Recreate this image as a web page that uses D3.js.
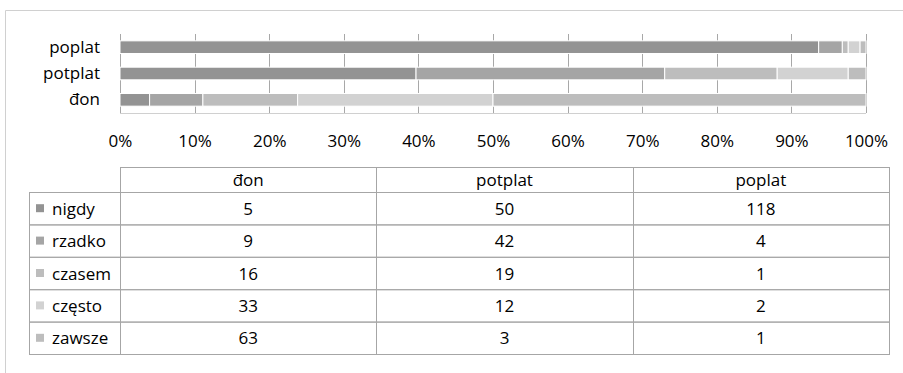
<!DOCTYPE html>
<html>
<head>
<meta charset="utf-8">
<script src="https://cdn.jsdelivr.net/npm/d3@7"></script>
<style>
  body { margin: 0; background: #fff; }
  text { font-family: "Open Sans", sans-serif; fill: #000; }
</style>
</head>
<body>
<div id="wykres"></div>
<script>
// dane
const kategorie = ["đon", "potplat", "poplat"];
const serie = ["nigdy", "rzadko", "czasem", "często", "zawsze"];
const nigdy  = [5, 50, 118];
const rzadko = [9, 42, 4];
const czasem = [16, 19, 1];
const czesto = [33, 12, 2];
const zawsze = [63, 3, 1];
const procenty = [0, 0.1, 0.2, 0.3, 0.4, 0.5, 0.6, 0.7, 0.8, 0.9, 1];

const kolory = ["#939393", "#a5a5a5", "#bdbdbd", "#d2d2d2", "#bdbdbd"];
const rozmiar = "17px";

const wartosci = [nigdy, rzadko, czasem, czesto, zawsze];
const wiersze = kategorie.map((k, i) => {
  const w = {kat: k};
  serie.forEach((s, j) => w[s] = wartosci[j][i]);
  return w;
});

const W = 903, H = 373;
const svg = d3.select("#wykres").append("svg")
  .attr("width", W).attr("height", H);

// ramka wykresu
svg.append("path")
  .attr("d", "M5.5," + H + "V10.5H" + W)
  .attr("fill", "none").attr("stroke", "#d0d0d0");

// skale
const x = d3.scaleLinear().domain([0, 1]).range([120, 866]);
const y = d3.scaleBand()
  .domain(kategorie.slice().reverse())
  .range([34, 113])
  .paddingInner(0.52)
  .paddingOuter(0.26);

// linie siatki
svg.append("g")
  .selectAll("line")
  .data(procenty)
  .join("line")
    .attr("x1", d => Math.round(x(d)) + 0.5)
    .attr("x2", d => Math.round(x(d)) + 0.5)
    .attr("y1", 34).attr("y2", 113)
    .attr("stroke", "#a8a8a8");

svg.append("line")
  .attr("x1", x(0)).attr("x2", x(1))
  .attr("y1", 113.5).attr("y2", 113.5)
  .attr("stroke", "#d0d0d0");

// oś X
const osX = svg.append("g")
  .attr("transform", "translate(0,132)")
  .call(d3.axisBottom(x).tickValues(procenty).tickFormat(d3.format(".0%")).tickSize(0));
osX.select(".domain").remove();
osX.selectAll("text").style("font-size", rozmiar).attr("dy", "0.71em");

// oś Y
const osY = svg.append("g")
  .attr("transform", "translate(100,0)")
  .call(d3.axisLeft(y).tickSize(0).tickPadding(0));
osY.select(".domain").remove();
osY.selectAll("text").style("font-size", rozmiar);

// słupki
const stos = d3.stack().keys(serie).offset(d3.stackOffsetExpand)(wiersze);
svg.append("g")
  .selectAll("g")
  .data(stos)
  .join("g")
    .attr("fill", (d, i) => kolory[i])
  .selectAll("rect")
  .data(d => d)
  .join("rect")
    .attr("x", d => x(d[0]))
    .attr("y", d => y(d.data.kat))
    .attr("width", d => x(d[1]) - x(d[0]))
    .attr("height", y.bandwidth())
    .attr("stroke", "#fff")
    .attr("stroke-width", 1);

// tabela danych
const kol = d3.scaleBand().domain(kategorie).range([120, 889]);
const rz = d3.scaleBand().domain(serie).range([192, 354]);
const gora = 167;
const linia = "#a6a6a6";
const tab = svg.append("g").attr("stroke-width", 1);

// nagłówek
tab.append("rect")
  .attr("x", kol.range()[0] + 0.5).attr("y", gora + 0.5)
  .attr("width", kol.range()[1] - kol.range()[0]).attr("height", rz.range()[0] - gora)
  .attr("fill", "none").attr("stroke", linia);
tab.selectAll(".nagl")
  .data(kategorie)
  .join("text")
    .attr("x", d => kol(d) + kol.bandwidth() / 2)
    .attr("y", (gora + rz.range()[0]) / 2)
    .attr("text-anchor", "middle")
    .attr("dominant-baseline", "central")
    .style("font-size", rozmiar)
    .text(d => d);

// wiersze
tab.selectAll(".wiersz")
  .data(serie)
  .join("rect")
    .attr("x", 29.5).attr("y", d => rz(d) + 0.5)
    .attr("width", kol.range()[1] - 29).attr("height", rz.bandwidth())
    .attr("fill", "none").attr("stroke", linia);

// linie pionowe
tab.selectAll(".pion")
  .data(kategorie)
  .join("line")
    .attr("x1", d => Math.round(kol(d)) + 0.5)
    .attr("x2", d => Math.round(kol(d)) + 0.5)
    .attr("y1", gora).attr("y2", rz.range()[1])
    .attr("stroke", linia);

// legenda
tab.selectAll(".kwadrat")
  .data(serie)
  .join("rect")
    .attr("x", 36).attr("y", d => rz(d) + rz.bandwidth() / 2 - 4)
    .attr("width", 8).attr("height", 8)
    .attr("fill", (d, i) => kolory[i]);
tab.selectAll(".etykieta")
  .data(serie)
  .join("text")
    .attr("x", 52).attr("y", d => rz(d) + rz.bandwidth() / 2)
    .attr("dominant-baseline", "central")
    .style("font-size", rozmiar)
    .text(d => d);

// wartości
serie.forEach((s, j) => {
  tab.append("g")
    .selectAll("text")
    .data(wartosci[j])
    .join("text")
      .attr("x", (d, i) => kol(kategorie[i]) + kol.bandwidth() / 2)
      .attr("y", rz(s) + rz.bandwidth() / 2)
      .attr("text-anchor", "middle")
      .attr("dominant-baseline", "central")
      .style("font-size", rozmiar)
      .text(d => d);
});
</script>
</body>
</html>
